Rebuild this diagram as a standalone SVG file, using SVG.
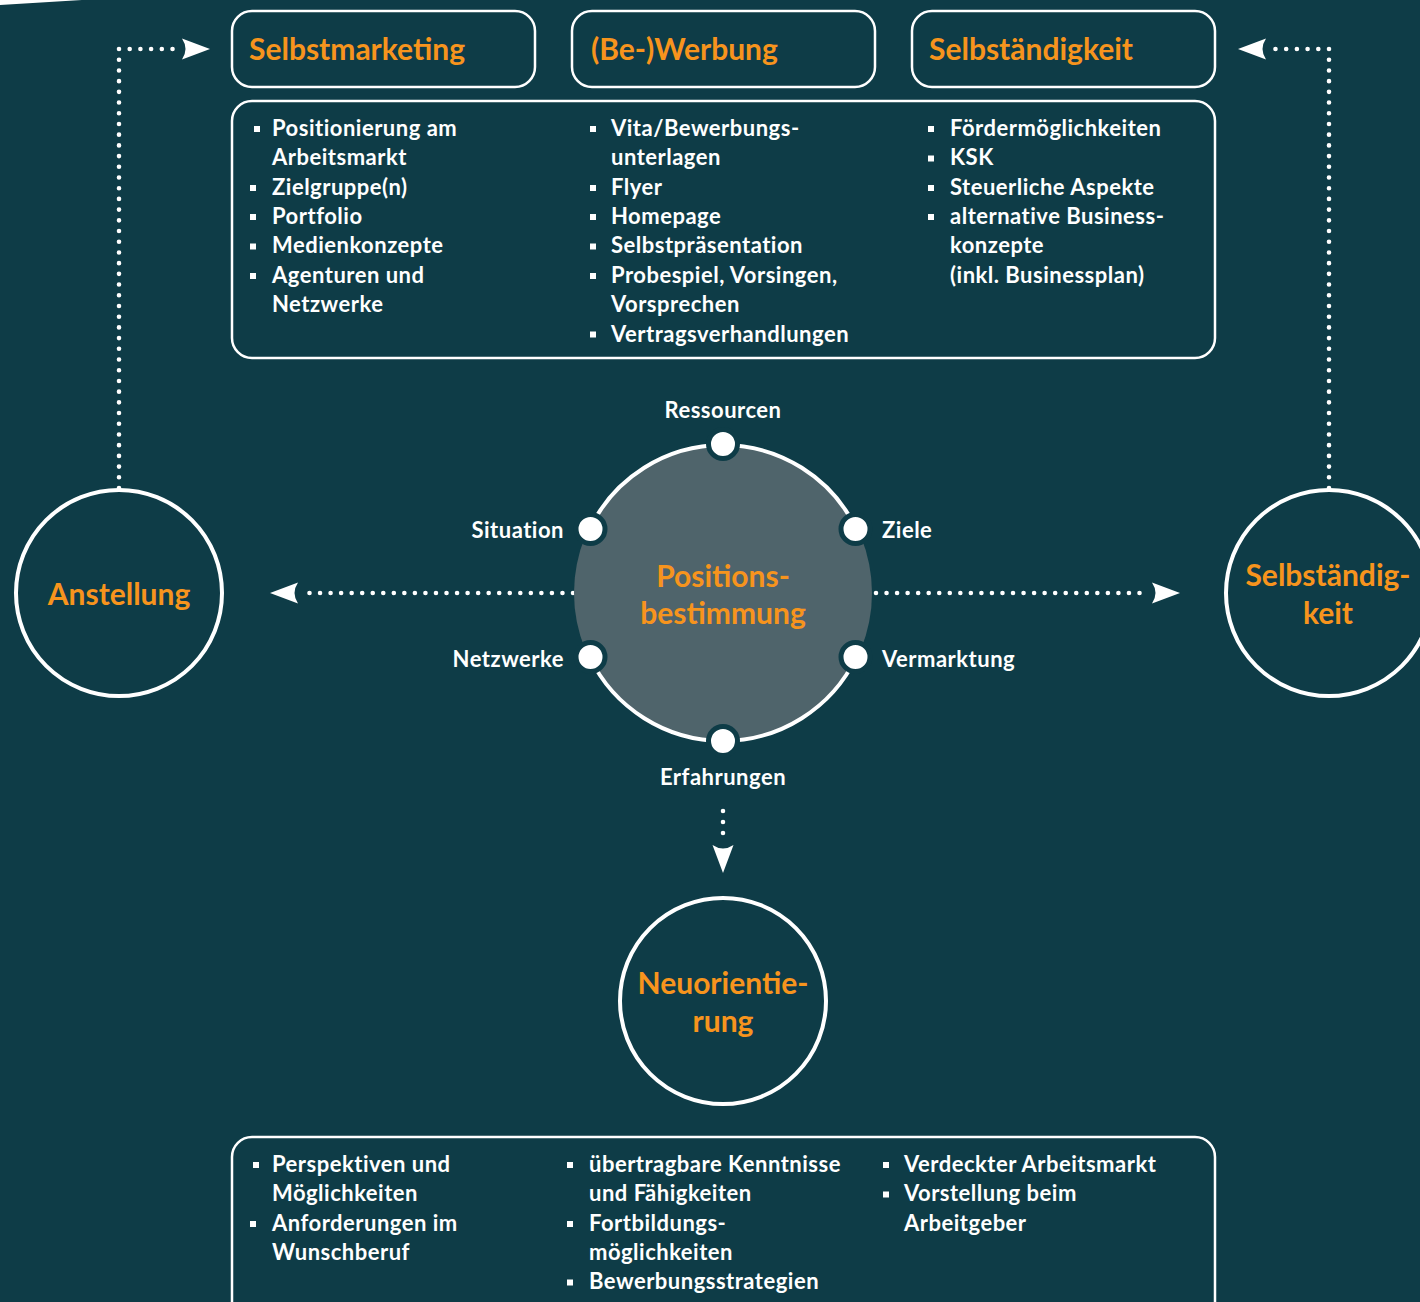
<svg xmlns="http://www.w3.org/2000/svg" width="1420" height="1302" viewBox="0 0 1420 1302">
<style>
.box{fill:none;stroke:#fff;stroke-width:2.5}
.ring{fill:none;stroke:#fff;stroke-width:4}
.hd{font-family:Lato,"Liberation Sans",sans-serif;font-weight:700;font-size:30px;fill:#f7941d}
.ct{font-family:Lato,"Liberation Sans",sans-serif;font-weight:700;font-size:30px;fill:#f7941d;text-anchor:middle}
.tx{font-family:Lato,"Liberation Sans",sans-serif;font-weight:700;font-size:22px;letter-spacing:0.5px;fill:#fff}
.lb{font-family:Lato,"Liberation Sans",sans-serif;font-weight:700;font-size:22px;letter-spacing:0.5px;fill:#fff}
.dot{fill:none;stroke:#fff;stroke-width:4.6;stroke-linecap:round}
.node{fill:#fff;stroke:#0e3c47;stroke-width:5}
</style>
<defs>
<path id="ah" d="M0,0 L-28,-10.5 Q-21,0 -28,10.5 Z" fill="#fff"/>
<rect id="b" x="-3" y="-3" width="6" height="6" fill="#fff"/>
</defs>
<rect width="1420" height="1302" fill="#0e3c47"/>
<polygon points="0,0 82,0 0,5" fill="#fff"/>

<g id="connectors">
<path class="dot" d="M119,488 V49 H183" stroke-dasharray="0 10.707"/>
<use href="#ah" transform="translate(210,49)"/>
<path class="dot" d="M1329,488 V49 H1265" stroke-dasharray="0 10.707"/>
<use href="#ah" transform="translate(1238,49) rotate(180)"/>
<path class="dot" d="M573,593 H299" stroke-dasharray="0 10.54"/>
<use href="#ah" transform="translate(270,593) rotate(180)"/>
<path class="dot" d="M876,593 H1150" stroke-dasharray="0 10.54"/>
<use href="#ah" transform="translate(1180,593)"/>
<path class="dot" d="M723,811 V844" stroke-dasharray="0 11"/>
<use href="#ah" transform="translate(723,873) rotate(90)"/>
</g>

<g id="hdr-selbstmarketing">
<rect class="box" x="232" y="11" width="303" height="76" rx="20"/>
<text class="hd" x="249" y="60">Selbstmarketing</text>
</g>
<g id="hdr-bewerbung">
<rect class="box" x="572" y="11" width="303" height="76" rx="20"/>
<text class="hd" x="591" y="60">(Be-)Werbung</text>
</g>
<g id="hdr-selbstaendigkeit">
<rect class="box" x="912" y="11" width="303" height="76" rx="20"/>
<text class="hd" x="929" y="60">Selbständigkeit</text>
</g>

<g id="top-list">
<rect class="box" x="232" y="101" width="983" height="257" rx="20"/>
<g transform="translate(0,1)">
<use href="#b" x="257" y="128"/><text class="tx" x="272" y="135">Positionierung am</text>
<text class="tx" x="272" y="164.4">Arbeitsmarkt</text>
<use href="#b" x="253" y="187"/><text class="tx" x="272" y="193.7">Zielgruppe(n)</text>
<use href="#b" x="253" y="216"/><text class="tx" x="272" y="223.1">Portfolio</text>
<use href="#b" x="253" y="245.5"/><text class="tx" x="272" y="252.4">Medienkonzepte</text>
<use href="#b" x="253" y="275"/><text class="tx" x="272" y="281.8">Agenturen und</text>
<text class="tx" x="272" y="311.1">Netzwerke</text>

<use href="#b" x="593" y="128"/><text class="tx" x="611" y="135">Vita/Bewerbungs-</text>
<text class="tx" x="611" y="164.4">unterlagen</text>
<use href="#b" x="593" y="187"/><text class="tx" x="611" y="193.7">Flyer</text>
<use href="#b" x="593" y="216"/><text class="tx" x="611" y="223.1">Homepage</text>
<use href="#b" x="593" y="245.5"/><text class="tx" x="611" y="252.4">Selbstpräsentation</text>
<use href="#b" x="593" y="275"/><text class="tx" x="611" y="281.8">Probespiel, Vorsingen,</text>
<text class="tx" x="611" y="311.1">Vorsprechen</text>
<use href="#b" x="593" y="333.5"/><text class="tx" x="611" y="340.5">Vertragsverhandlungen</text>

<use href="#b" x="931" y="128"/><text class="tx" x="950" y="135">Fördermöglichkeiten</text>
<use href="#b" x="931" y="157.5"/><text class="tx" x="950" y="164.4">KSK</text>
<use href="#b" x="931" y="187"/><text class="tx" x="950" y="193.7">Steuerliche Aspekte</text>
<use href="#b" x="931" y="216"/><text class="tx" x="950" y="223.1">alternative Business-</text>
<text class="tx" x="950" y="252.4">konzepte</text>
<text class="tx" x="950" y="281.8">(inkl. Businessplan)</text>
</g>
</g>

<g id="positionsbestimmung">
<circle cx="723" cy="593" r="149" fill="#4f646b"/>
<path class="ring" d="M589.6,529 A148,148 0 0 1 856.4,529"/>
<path class="ring" d="M589.6,657 A148,148 0 0 0 856.4,657"/>
<circle class="node" cx="723" cy="444" r="14.5"/>
<circle class="node" cx="590.5" cy="529" r="14.5"/>
<circle class="node" cx="855.5" cy="529" r="14.5"/>
<circle class="node" cx="590.5" cy="657" r="14.5"/>
<circle class="node" cx="855.5" cy="657" r="14.5"/>
<circle class="node" cx="723" cy="741" r="14.5"/>
<text class="ct" x="723" y="587">Positions-</text>
<text class="ct" x="723" y="624">bestimmung</text>
<text class="lb" x="723" y="418" text-anchor="middle">Ressourcen</text>
<text class="lb" x="564" y="538" text-anchor="end">Situation</text>
<text class="lb" x="882" y="538">Ziele</text>
<text class="lb" x="564" y="667" text-anchor="end">Netzwerke</text>
<text class="lb" x="882" y="667">Vermarktung</text>
<text class="lb" x="723" y="785" text-anchor="middle">Erfahrungen</text>
</g>

<g id="anstellung">
<circle class="ring" cx="119" cy="593" r="103"/>
<text class="ct" x="119" y="605">Anstellung</text>
</g>
<g id="selbstaendigkeit">
<circle class="ring" cx="1329" cy="593" r="103"/>
<text class="ct" x="1328" y="586">Selbständig-</text>
<text class="ct" x="1328" y="624">keit</text>
</g>
<g id="neuorientierung">
<circle class="ring" cx="723" cy="1001" r="103"/>
<text class="ct" x="723" y="994">Neuorientie-</text>
<text class="ct" x="723" y="1032">rung</text>
</g>

<g id="bottom-list">
<rect class="box" x="232" y="1137" width="983" height="200" rx="20"/>
<g transform="translate(0,1)">
<use href="#b" x="256" y="1164"/><text class="tx" x="272" y="1171">Perspektiven und</text>
<text class="tx" x="272" y="1200.4">Möglichkeiten</text>
<use href="#b" x="253" y="1223"/><text class="tx" x="272" y="1229.7">Anforderungen im</text>
<text class="tx" x="272" y="1259">Wunschberuf</text>

<use href="#b" x="570" y="1164"/><text class="tx" x="589" y="1171">übertragbare Kenntnisse</text>
<text class="tx" x="589" y="1200.4">und Fähigkeiten</text>
<use href="#b" x="570" y="1223"/><text class="tx" x="589" y="1229.7">Fortbildungs-</text>
<text class="tx" x="589" y="1259">möglichkeiten</text>
<use href="#b" x="570" y="1281.5"/><text class="tx" x="589" y="1288.4">Bewerbungsstrategien</text>

<use href="#b" x="886" y="1164"/><text class="tx" x="904" y="1171">Verdeckter Arbeitsmarkt</text>
<use href="#b" x="886" y="1193.5"/><text class="tx" x="904" y="1200.4">Vorstellung beim</text>
<text class="tx" x="904" y="1229.7">Arbeitgeber</text>
</g>
</g>
</svg>
